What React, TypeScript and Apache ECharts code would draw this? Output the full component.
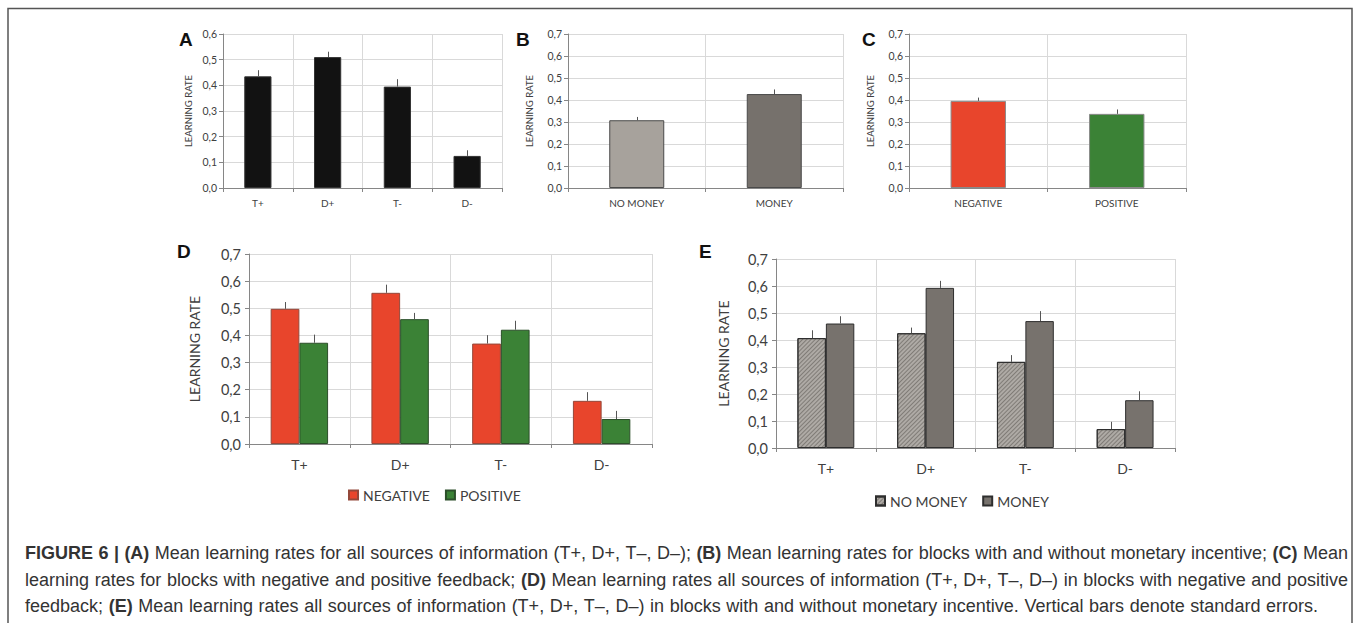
import React, { useEffect, useRef } from "react";
import * as echarts from "echarts";

// ---- data ----
const catsSources = ["T+", "D+", "T-", "D-"];
const catsMoney = ["NO MONEY", "MONEY"];
const catsFeedback = ["NEGATIVE", "POSITIVE"];

const aMeans = [0.435, 0.51, 0.395, 0.125];
const aSE = [0.024, 0.021, 0.029, 0.022];

const bMeans = [0.308, 0.427];
const bSE = [0.015, 0.021];

const cMeans = [0.396, 0.337];
const cSE = [0.015, 0.02];

const dNegMeans = [0.498, 0.557, 0.37, 0.159];
const dNegSE = [0.025, 0.03, 0.031, 0.032];
const dPosMeans = [0.373, 0.46, 0.421, 0.092];
const dPosSE = [0.03, 0.023, 0.033, 0.03];

const eNoMoneyMeans = [0.407, 0.425, 0.319, 0.07];
const eNoMoneySE = [0.029, 0.021, 0.025, 0.027];
const eMoneyMeans = [0.461, 0.593, 0.47, 0.177];
const eMoneySE = [0.027, 0.026, 0.037, 0.033];

// caption lines: [text, bold] segments
const captionLine1: [string, boolean][] = [
  ["FIGURE 6 | (A)", true],
  ["Mean learning rates for all sources of information (T+, D+, T–, D–);", false],
  ["(B)", true],
  ["Mean learning rates for blocks with and without monetary incentive;", false],
  ["(C)", true],
  ["Mean", false],
];
const captionLine2: [string, boolean][] = [
  ["learning rates for blocks with negative and positive feedback;", false],
  ["(D)", true],
  ["Mean learning rates all sources of information (T+, D+, T–, D–) in blocks with negative and positive", false],
];
const captionLine3: [string, boolean][] = [
  ["feedback;", false],
  ["(E)", true],
  ["Mean learning rates all sources of information (T+, D+, T–, D–) in blocks with and without monetary incentive. Vertical bars denote standard errors.", false],
];

const FONT = "Lato";
const CAPFONT = "Liberation Sans";
const CAPSIZE = 18;
const TXT = "#404040";
const AXC = "#868686";
const GRIDC = "#d9d9d9";

const RED = "#e8452c";
const GREEN = "#3b8236";
const LIGHTG = "#aeaaa5";
const DARKG = "#77726d";

const fmt = (v: number) => v.toFixed(1).replace(".", ",");

function yAx(gridIndex: number, max: number, fs: number, nameGap: number, margin: number, nfs: number) {
  return {
    type: "value",
    gridIndex,
    min: 0,
    max,
    interval: 0.1,
    name: "LEARNING RATE",
    nameLocation: "middle",
    nameGap,
    nameRotate: 90,
    nameTextStyle: { fontSize: nfs, color: TXT, fontFamily: FONT },
    axisLine: { show: true, lineStyle: { color: AXC, width: 1 } },
    axisTick: { show: true, length: 4, lineStyle: { color: AXC } },
    axisLabel: { fontSize: fs, color: TXT, fontFamily: FONT, margin, formatter: fmt },
    splitLine: { show: true, lineStyle: { color: GRIDC, width: 1 } },
  };
}

function xAx(gridIndex: number, data: string[], fs: number, margin: number) {
  return {
    type: "category",
    gridIndex,
    data,
    axisLine: { show: true, lineStyle: { color: AXC, width: 1 } },
    axisTick: { show: true, length: 4, lineStyle: { color: AXC } },
    axisLabel: { fontSize: fs, color: TXT, fontFamily: FONT, margin, interval: 0 },
    splitLine: { show: true, lineStyle: { color: GRIDC, width: 1 } },
  };
}

function errSeries(idx: number, means: number[], se: number[], offsetFrac: number) {
  return {
    type: "custom",
    xAxisIndex: idx,
    yAxisIndex: idx,
    silent: true,
    z: 5,
    data: means.map((m, i) => [i, m, m + se[i]]),
    renderItem: (params: any, api: any) => {
      const ci = api.value(0);
      const base = api.coord([ci, api.value(1)]);
      const top = api.coord([ci, api.value(2)]);
      const band = api.size([1, 0])[0];
      const x = Math.round(base[0] + offsetFrac * band) + 0.5;
      return {
        type: "line",
        shape: { x1: x, y1: base[1], x2: x, y2: top[1] },
        style: { stroke: "#555", lineWidth: 1 },
      };
    },
  };
}

function letter(t: string, x: number, y: number) {
  return {
    type: "text",
    x,
    y,
    style: { text: t, fontSize: 19, fontWeight: "bold", fontFamily: "Liberation Sans", fill: "#111", textVerticalAlign: "middle" },
  };
}

function captionText(segs: [string, boolean][], x: number, y: number, targetWidth: number) {
  const words: { w: string; b: boolean }[] = [];
  segs.forEach(([t, b]) => t.split(" ").filter((s) => s.length).forEach((w) => words.push({ w, b })));
  let ctx: CanvasRenderingContext2D | null = null;
  try {
    ctx = document.createElement("canvas").getContext("2d");
  } catch (e) {
    ctx = null;
  }
  const meas = (s: string, b: boolean) => {
    if (!ctx) return s.length * CAPSIZE * 0.5;
    ctx.font = `${b ? "bold " : ""}${CAPSIZE}px "${CAPFONT}"`;
    return ctx.measureText(s).width;
  };
  const spaceW = meas(" ", false);
  const wordsW = words.reduce((acc, w) => acc + meas(w.w, w.b), 0);
  const gaps = words.length - 1;
  const gapW = Math.max(spaceW * 0.6, (targetWidth - wordsW) / gaps);
  const text = words.map((w) => `{${w.b ? "b" : "r"}|${w.w}}`).join("{s|\u00a0}");
  return {
    type: "text",
    x,
    y,
    style: {
      text,
      fontSize: CAPSIZE,
      fontFamily: CAPFONT,
      fill: "#333",
      textVerticalAlign: "middle",
      rich: {
        r: { fontSize: CAPSIZE, fontFamily: CAPFONT, color: "#3a3a3a" },
        b: { fontSize: CAPSIZE, fontFamily: CAPFONT, fontWeight: "bold", color: "#222" },
        s: { fontSize: CAPSIZE, fontFamily: CAPFONT, width: gapW },
      },
    },
  };
}

export default function App() {
  const ref = useRef<HTMLDivElement>(null);
  useEffect(() => {
    document.body.style.margin = "0";
    const chart = echarts.init(ref.current!, undefined, { renderer: "svg" });
    const gapD = 0.43;
    const off = (1 - gapD) / 4;
    const option: any = {
      animation: false,
      backgroundColor: "#fff",
      textStyle: { fontFamily: FONT },
      grid: [
        { left: 223, top: 34, width: 279, height: 154 },
        { left: 568, top: 34, width: 275, height: 154 },
        { left: 909, top: 34, width: 277, height: 154 },
        { left: 249, top: 254, width: 403, height: 190 },
        { left: 776, top: 259, width: 399, height: 189 },
      ],
      xAxis: [
        xAx(0, catsSources, 10, 10),
        xAx(1, catsMoney, 10, 10),
        xAx(2, catsFeedback, 10, 10),
        xAx(3, catsSources, 14, 13),
        xAx(4, catsSources, 14, 13),
      ],
      yAxis: [
        yAx(0, 0.6, 10.5, 30, 6, 9.5),
        yAx(1, 0.7, 10.5, 34, 6, 9.5),
        yAx(2, 0.7, 10.5, 34, 6, 9.5),
        yAx(3, 0.7, 14.5, 48, 8, 14),
        yAx(4, 0.7, 14.5, 46, 8, 14),
      ],
      legend: [
        {
          data: ["NEGATIVE", "POSITIVE"],
          left: 343,
          top: 483,
          itemWidth: 9,
          itemHeight: 9,
          itemGap: 15,
          icon: "rect",
          textStyle: { fontSize: 14, color: TXT, fontFamily: FONT },
        },
        {
          data: ["NO MONEY", "MONEY"],
          left: 870,
          top: 489,
          itemWidth: 9,
          itemHeight: 9,
          itemGap: 15,
          icon: "rect",
          textStyle: { fontSize: 14, color: TXT, fontFamily: FONT },
        },
      ],
      series: [
        {
          name: "A",
          type: "bar",
          xAxisIndex: 0,
          yAxisIndex: 0,
          data: aMeans,
          barCategoryGap: "61%",
          itemStyle: { color: "#121212", borderColor: "#333", borderWidth: 1 },
        },
        errSeries(0, aMeans, aSE, 0),
        {
          name: "B",
          type: "bar",
          xAxisIndex: 1,
          yAxisIndex: 1,
          barCategoryGap: "60%",
          data: [
            { value: bMeans[0], itemStyle: { color: "#a7a29c" } },
            { value: bMeans[1], itemStyle: { color: "#76716c" } },
          ],
          itemStyle: { borderColor: "#4a4a4a", borderWidth: 1 },
        },
        errSeries(1, bMeans, bSE, 0),
        {
          name: "C",
          type: "bar",
          xAxisIndex: 2,
          yAxisIndex: 2,
          barCategoryGap: "60%",
          data: [
            { value: cMeans[0], itemStyle: { color: RED } },
            { value: cMeans[1], itemStyle: { color: GREEN } },
          ],
          itemStyle: { borderColor: "#8a8a8a", borderWidth: 1 },
        },
        errSeries(2, cMeans, cSE, 0),
        {
          name: "NEGATIVE",
          type: "bar",
          xAxisIndex: 3,
          yAxisIndex: 3,
          data: dNegMeans,
          barGap: "0%",
          barCategoryGap: "43%",
          itemStyle: { color: RED, borderColor: "#94483a", borderWidth: 1 },
        },
        {
          name: "POSITIVE",
          type: "bar",
          xAxisIndex: 3,
          yAxisIndex: 3,
          data: dPosMeans,
          barGap: "0%",
          barCategoryGap: "43%",
          itemStyle: { color: GREEN, borderColor: "#2c4f2a", borderWidth: 1 },
        },
        errSeries(3, dNegMeans, dNegSE, -off),
        errSeries(3, dPosMeans, dPosSE, off),
        {
          name: "NO MONEY",
          type: "bar",
          xAxisIndex: 4,
          yAxisIndex: 4,
          data: eNoMoneyMeans,
          barGap: "0%",
          barCategoryGap: "43%",
          itemStyle: {
            color: LIGHTG,
            borderColor: "#2e2e2e",
            borderWidth: 1,
            decal: {
              symbol: "rect",
              symbolSize: 1,
              dashArrayX: [1, 0],
              dashArrayY: [1, 1.5],
              rotation: -Math.PI / 4,
              color: "rgba(70,66,62,0.45)",
            },
          },
        },
        {
          name: "MONEY",
          type: "bar",
          xAxisIndex: 4,
          yAxisIndex: 4,
          data: eMoneyMeans,
          barGap: "0%",
          barCategoryGap: "43%",
          itemStyle: { color: DARKG, borderColor: "#2e2e2e", borderWidth: 1 },
        },
        errSeries(4, eNoMoneyMeans, eNoMoneySE, -off),
        errSeries(4, eMoneyMeans, eMoneySE, off),
      ],
      graphic: [
        {
          type: "rect",
          shape: { x: 8, y: 8.5, width: 1344, height: 640 },
          style: { fill: "none", stroke: "#555", lineWidth: 1.5 },
        },
        letter("A", 179, 39),
        letter("B", 516, 39),
        letter("C", 862, 39),
        letter("D", 177, 251),
        letter("E", 699, 251),
        captionText(captionLine1, 25, 553, 1323),
        captionText(captionLine2, 25, 579.5, 1323),
        captionText(captionLine3, 25, 606, 1293),
      ],
    };
    chart.setOption(option);
    return () => chart.dispose();
  }, []);
  return <div ref={ref} style={{ width: 1358, height: 623 }} />;
}
